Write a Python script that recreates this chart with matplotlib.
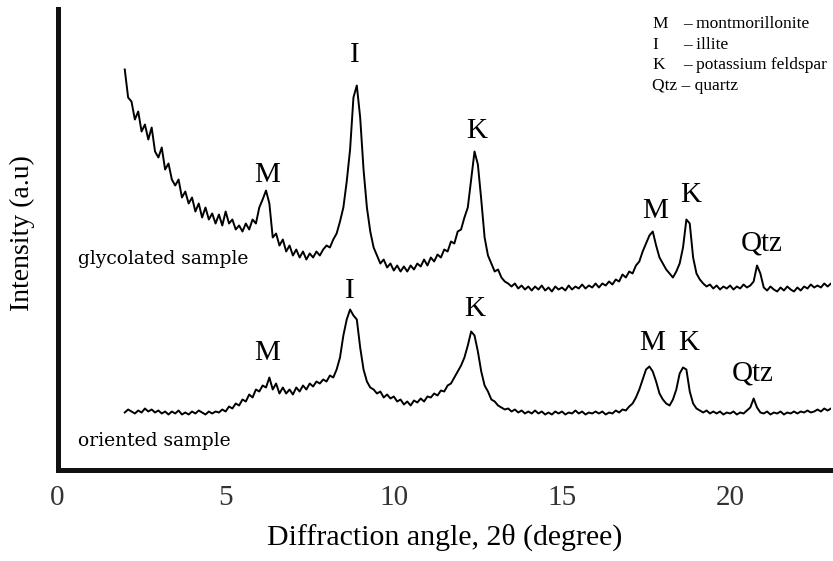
import numpy as np
import matplotlib.pyplot as plt

# 2-theta scan grid, 0.1 degree steps from 2 to 23
two_theta = np.round(np.arange(2.0, 23.05, 0.1), 1)

# intensities (arbitrary units), one row per degree
glycolated = [
    400, 372, 368, 350, 358, 338, 345, 330, 342, 318,   # 2.x
    312, 322, 300, 306, 290, 284, 290, 272, 278, 266,   # 3.x
    272, 258, 266, 252, 262, 250, 256, 246, 255, 244,   # 4.x
    258, 246, 250, 240, 244, 238, 246, 240, 250, 246,   # 5.x
    262, 270, 279, 266, 232, 236, 224, 230, 218, 224,   # 6.x
    214, 220, 212, 218, 210, 216, 212, 218, 214, 220,   # 7.x
    224, 222, 230, 236, 248, 262, 288, 320, 372, 384,   # 8.x
    352, 300, 262, 238, 222, 214, 206, 210, 202, 206,   # 9.x
    199, 204, 198, 203, 198, 204, 200, 206, 203, 210,   # 10.x
    204, 212, 208, 215, 212, 220, 218, 228, 226, 238,   # 11.x
    240, 252, 262, 290, 318, 305, 270, 232, 214, 206,   # 12.x
    198, 200, 192, 188, 186, 183, 186, 181, 184, 180,   # 13.x
    183, 179, 183, 180, 184, 179, 182, 178, 183, 180,   # 14.x
    182, 179, 184, 180, 183, 181, 185, 181, 184, 182,   # 15.x
    186, 182, 186, 184, 188, 185, 190, 188, 195, 192,   # 16.x
    198, 196, 204, 208, 218, 226, 234, 238, 224, 212,   # 17.x
    206, 200, 196, 192, 198, 206, 222, 250, 246, 212,   # 18.x
    196, 190, 186, 183, 185, 181, 184, 180, 183, 181,   # 19.x
    184, 180, 183, 181, 185, 182, 184, 188, 204, 196,   # 20.x
    182, 179, 183, 180, 178, 182, 179, 183, 180, 178,   # 21.x
    182, 179, 183, 181, 185, 182, 184, 182, 186, 183,   # 22.x
    186,                                                # 23.0
]

oriented = [
    57, 60, 58, 56, 59, 57, 61, 58, 60, 57,             # 2.x
    59, 56, 58, 55, 58, 56, 59, 55, 57, 55,             # 3.x
    58, 56, 59, 57, 55, 58, 56, 58, 57, 60,             # 4.x
    58, 63, 61, 66, 64, 70, 68, 75, 72, 80,             # 5.x
    78, 84, 82, 92, 80, 86, 76, 82, 76, 80,             # 6.x
    75, 82, 78, 84, 80, 86, 83, 88, 86, 90,             # 7.x
    88, 94, 92, 100, 112, 134, 150, 160, 154, 150,      # 8.x
    122, 100, 88, 82, 80, 76, 78, 72, 75, 71,           # 9.x
    73, 68, 70, 65, 68, 64, 69, 67, 71, 68,             # 10.x
    73, 72, 76, 74, 79, 78, 84, 86, 92, 98,             # 11.x
    104, 112, 124, 138, 134, 118, 98, 84, 78, 70,       # 12.x
    68, 64, 62, 60, 61, 58, 60, 57, 59, 56,             # 13.x
    58, 56, 59, 56, 58, 55, 57, 55, 58, 56,             # 14.x
    58, 55, 57, 56, 59, 56, 58, 55, 57, 56,             # 15.x
    58, 56, 58, 55, 57, 56, 59, 57, 60, 59,             # 16.x
    63, 66, 72, 80, 90, 100, 103, 98, 88, 76,           # 17.x
    70, 66, 64, 70, 80, 96, 102, 100, 78, 66,           # 18.x
    61, 59, 57, 59, 56, 58, 56, 58, 55, 57,             # 19.x
    56, 58, 55, 57, 56, 59, 62, 71, 62, 57,             # 20.x
    56, 58, 55, 57, 56, 58, 55, 57, 56, 58,             # 21.x
    56, 58, 57, 59, 57, 58, 60, 58, 61, 59,             # 22.x
    61,                                                 # 23.0
]

peak_labels = ['M', 'I', 'K', 'M', 'K', 'Qtz']
glyc_label_xy = [(6.23, 288), (8.85, 407), (12.47, 332), (17.77, 251), (18.84, 268), (20.95, 219)]
orient_label_xy = [(6.23, 110), (8.70, 172), (12.41, 154), (17.68, 119), (18.78, 119), (20.68, 89)]

legend_symbols = ['M', 'I', 'K']
legend_names = ['\u2013 montmorillonite', '\u2013 illite', '\u2013 potassium feldspar']
legend_last = 'Qtz \u2013 quartz'

W, H = 833, 561
fig = plt.figure(figsize=(W / 100, H / 100), dpi=100)
ax = fig.add_axes([57.5 / W, (H - 469.5) / H, 773.5 / W, 461 / H])

ax.plot(two_theta, glycolated, color='black', lw=1.4)
ax.plot(two_theta, oriented, color='black', lw=1.4)

ax.set_xlim(0, 23)
ax.set_ylim(0, 461)

serif = 'Liberation Serif'
for lbl, (x, y) in zip(peak_labels, glyc_label_xy):
    ax.text(x, y, lbl, ha='center', va='baseline', fontsize=21, family=serif)
for lbl, (x, y) in zip(peak_labels, orient_label_xy):
    ax.text(x, y, lbl, ha='center', va='baseline', fontsize=21, family=serif)

ax.text(0.61, 206, 'glycolated sample', fontsize=13.5, family='DejaVu Serif', va='baseline')
ax.text(0.61, 23, 'oriented sample', fontsize=13.5, family='DejaVu Serif', va='baseline')

# legend block at top right
for i, (s, n) in enumerate(zip(legend_symbols, legend_names)):
    yb = 1 - (28 + 20.7 * i) / H
    fig.text(652 / W, yb, s, fontsize=12.5, family=serif, va='baseline')
    fig.text(683 / W, yb, n, fontsize=12.5, family=serif, va='baseline')
fig.text(652 / W, 1 - 90 / H, legend_last, fontsize=12.5, family=serif, va='baseline')

for side in ['top', 'right']:
    ax.spines[side].set_visible(False)
for side in ['left', 'bottom']:
    ax.spines[side].set_linewidth(3.6)
    ax.spines[side].set_color('#111111')

ax.set_yticks([])
ax.set_xticks([0, 5, 10, 15, 20])
ax.tick_params(axis='x', length=0, pad=11, labelsize=21)
for t in ax.get_xticklabels():
    t.set_family(serif)
    t.set_color('#333333')

ax.set_xlabel('Diffraction angle, 2\u03b8 (degree)', fontsize=21.5, family=serif, labelpad=9)
fig.text(22 / W, 1 - 233 / H, 'Intensity (a.u)', rotation=90, fontsize=20,
         family=serif, ha='center', va='center')

fig.savefig('out.png', dpi=100)
